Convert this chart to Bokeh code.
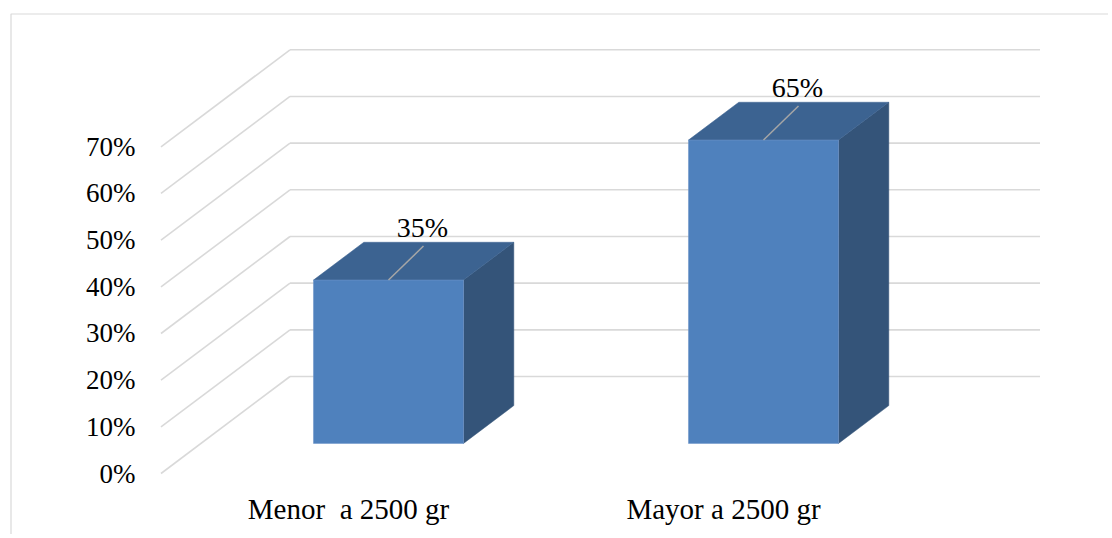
from bokeh.plotting import figure
from bokeh.models import Range1d
from bokeh.core.properties import value
from bokeh.embed import file_html
from bokeh.resources import INLINE

# ---- data ----
categories = ["Menor\u00a0 a 2500 gr", "Mayor a 2500 gr"]
percentages = [35, 65]
data_labels = ["35%", "65%"]
y_ticks = [0, 10, 20, 30, 40, 50, 60, 70]
y_tick_labels = ["0%", "10%", "20%", "30%", "40%", "50%", "60%", "70%"]

# ---- layout / projection constants (page pixels) ----
W, H = 1108, 534
ORIG_X, ORIG_Y = 0, 0          # page offset of the figure
UX = 375.0                     # px per category unit
UY = 4.667                     # px per percent
CX0 = 348.0                    # page x of category 0 centre (front plane)
Y0 = 473.0                     # page y of 0% (front plane)
DEPTH_PX_X, DEPTH_PX_Y = 129.0, 97.0
DDX = DEPTH_PX_X / UX          # depth shift in data units
DDY = DEPTH_PX_Y / UY
F1, F2 = 0.31, 0.70            # bar front/back depth fractions
BAR_W = 0.4

def dx(page_x):
    return (page_x - CX0) / UX

def dy(page_y):
    return (Y0 - page_y) / UY

FONT = value("Liberation Serif")
GRID = "#d9d9d9"
FRONT, TOP, SIDE = "#4f81bd", "#3c6391", "#345479"

p = figure(width=W, height=H, output_backend="svg", toolbar_location=None,
           x_range=Range1d(dx(ORIG_X), dx(ORIG_X + W)),
           y_range=Range1d(dy(ORIG_Y + H), dy(ORIG_Y)),
           x_axis_location=None, y_axis_location=None,
           min_border=0, outline_line_color=None,
           background_fill_color="white", border_fill_color="white")
p.grid.visible = False

# outer chart border (left and top edges visible)
p.line([dx(10.5), dx(10.5), dx(ORIG_X + W + 5)],
       [dy(ORIG_Y + H + 5), dy(13.5), dy(13.5)],
       line_color=GRID, line_width=1.2)

# walls: gridlines on left wall and back wall
xl_front = -0.5
xr_front = len(categories) - 0.5
for t in y_ticks:
    p.line([xl_front, xl_front + DDX], [t, t + DDY], line_color=GRID, line_width=1.6)
    p.line([xl_front + DDX, xr_front + DDX], [t + DDY, t + DDY],
           line_color=GRID, line_width=1.6)

# bars
for i, v in enumerate(percentages):
    xl = i - BAR_W / 2
    xr = i + BAR_W / 2
    # side face
    p.patch([xr + DDX * F1, xr + DDX * F2, xr + DDX * F2, xr + DDX * F1],
            [DDY * F1, DDY * F2, v + DDY * F2, v + DDY * F1],
            fill_color=SIDE, line_color=SIDE, line_width=0.5)
    # top face
    p.patch([xl + DDX * F1, xr + DDX * F1, xr + DDX * F2, xl + DDX * F2],
            [v + DDY * F1, v + DDY * F1, v + DDY * F2, v + DDY * F2],
            fill_color=TOP, line_color=TOP, line_width=0.5)
    # front face
    p.quad(left=xl + DDX * F1, right=xr + DDX * F1,
           bottom=DDY * F1, top=v + DDY * F1,
           fill_color=FRONT, line_color="#6f96c9", line_width=0.6)
    # leader line + data label
    x0 = i + DDX * F1
    y0 = v + DDY * F1
    x1 = x0 + 35 / UX
    y1 = y0 + 34 / UY
    p.line([x0, x1], [y0, y1], line_color="#a6a6a6", line_width=1.5)
    p.text([x1 - 1 / UX], [y1 + 19 / UY], text=[data_labels[i]],
           text_font=FONT, text_font_size="28px", text_color="black",
           text_align="center", text_baseline="middle")

# y tick labels (front plane, left of wall)
p.text([dx(135)] * len(y_ticks), y_ticks, text=y_tick_labels,
       text_font=FONT, text_font_size="27px", text_color="black",
       text_align="right", text_baseline="middle")

# category labels
p.text(list(range(len(categories))), [dy(508)] * len(categories), text=categories,
       text_font=FONT, text_font_size="29px", text_color="black",
       text_align="center", text_baseline="middle")

open("out.html", "w").write(file_html(p, INLINE))
